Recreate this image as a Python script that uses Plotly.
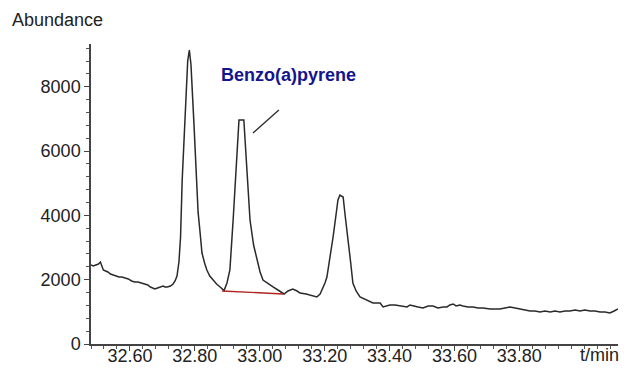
import plotly.graph_objects as go

# Chromatogram trace (retention time in min, abundance)
time_min = [
    32.480, 32.487, 32.495, 32.503, 32.509, 32.513, 32.518, 32.525, 32.532, 32.540,
    32.548, 32.557, 32.566, 32.575, 32.585, 32.595, 32.605, 32.615, 32.625, 32.635,
    32.645, 32.655, 32.663, 32.670, 32.677, 32.685, 32.695, 32.702, 32.708, 32.715,
    32.725, 32.733, 32.739, 32.745, 32.751, 32.756, 32.761, 32.770, 32.778, 32.783,
    32.788, 32.797, 32.804, 32.810, 32.816, 32.822, 32.830, 32.837, 32.846, 32.856,
    32.867, 32.878, 32.885, 32.890, 32.899, 32.908, 32.918, 32.927, 32.936, 32.951,
    32.961, 32.970, 32.981, 32.992, 33.001, 33.010, 33.026, 33.041, 33.056, 33.069,
    33.075, 33.087, 33.102, 33.115, 33.124, 33.143, 33.161, 33.176, 33.186, 33.195,
    33.201, 33.207, 33.217, 33.226, 33.235, 33.241, 33.247, 33.257, 33.263, 33.272,
    33.280, 33.287, 33.297, 33.309, 33.321, 33.331, 33.340, 33.349, 33.361, 33.371,
    33.380, 33.392, 33.401, 33.417, 33.432, 33.445, 33.454, 33.463, 33.472, 33.488,
    33.503, 33.519, 33.534, 33.549, 33.565, 33.577, 33.586, 33.596, 33.605, 33.617,
    33.626, 33.642, 33.657, 33.673, 33.688, 33.710, 33.731, 33.740, 33.756, 33.771,
    33.787, 33.802, 33.817, 33.833, 33.848, 33.864, 33.879, 33.895, 33.910, 33.925,
    33.941, 33.956, 33.972, 33.987, 34.002, 34.018, 34.033, 34.049, 34.064, 34.079,
    34.092, 34.104,
]
abundance = [
    2457, 2426, 2457, 2488, 2550, 2426, 2301, 2270, 2239, 2177,
    2146, 2115, 2084, 2084, 2053, 2022, 1959, 1928, 1928, 1897,
    1866, 1835, 1773, 1742, 1711, 1742, 1773, 1804, 1773, 1773,
    1804, 1866, 1959, 2115, 2550, 3328, 5100, 7120, 8800, 9143,
    8700, 6900, 5100, 4100, 3483, 2830, 2519, 2301, 2115, 1990,
    1866, 1773, 1711, 1660, 1897, 2301, 3856, 5411, 6966, 6966,
    5411, 3856, 3079, 2612, 2239, 1990, 1866, 1773, 1679, 1586,
    1555, 1648, 1711, 1648, 1586, 1555, 1493, 1462, 1555, 1742,
    1897, 2084, 2706, 3328, 4012, 4478, 4634, 4572, 4012, 3328,
    2550, 1897, 1648, 1462, 1400, 1368, 1306, 1275, 1275, 1275,
    1151, 1182, 1213, 1213, 1182, 1151, 1151, 1213, 1182, 1151,
    1120, 1182, 1182, 1120, 1151, 1151, 1213, 1244, 1182, 1213,
    1182, 1151, 1151, 1120, 1120, 1088, 1088, 1088, 1120, 1151,
    1120, 1088, 1057, 1026, 1026, 995, 1026, 995, 1026, 995,
    1026, 1026, 1057, 1026, 1057, 1026, 1026, 995, 995, 964,
    1026, 1088,
]

# Integration baseline under the Benzo(a)pyrene peak
baseline_time = [32.884, 33.072]
baseline_abund = [1648, 1555]

# Leader line from label to peak
leader_time = [32.979, 33.059]
leader_abund = [6562, 7277]

label_text = "Benzo(a)pyrene"
label_time = 33.09
label_abund = 8366

x_tickvals = [32.60, 32.80, 33.00, 33.20, 33.40, 33.60, 33.80]
y_tickvals = [0, 2000, 4000, 6000, 8000]

FONT = "Liberation Sans, Arial, sans-serif"

fig = go.Figure()
fig.add_trace(go.Scatter(x=time_min, y=abundance, mode="lines",
                         line=dict(color="#2a2a2a", width=1.5), hoverinfo="skip"))
fig.add_trace(go.Scatter(x=baseline_time, y=baseline_abund, mode="lines",
                         line=dict(color="#b22222", width=1.4), hoverinfo="skip"))
fig.add_trace(go.Scatter(x=leader_time, y=leader_abund, mode="lines",
                         line=dict(color="#2a2a2a", width=1.3), hoverinfo="skip"))

fig.add_annotation(x=label_time, y=label_abund, text="<b>" + label_text + "</b>",
                   showarrow=False, font=dict(family=FONT, size=18, color="#14148c"))
fig.add_annotation(xref="paper", yref="paper", x=-0.154, y=1.08, xanchor="left",
                   yanchor="middle", text="Abundance", showarrow=False,
                   font=dict(family=FONT, size=18, color="#222222"))
fig.add_annotation(xref="paper", yref="paper", x=1.005, y=-0.037, xanchor="right",
                   yanchor="middle", text="t/min", showarrow=False,
                   font=dict(family=FONT, size=18, color="#222222"))

fig.update_layout(
    width=627, height=369,
    margin=dict(l=91, r=9, t=44, b=25),
    paper_bgcolor="white", plot_bgcolor="white",
    showlegend=False,
    font=dict(family=FONT, size=18, color="#222222"),
)
fig.update_xaxes(
    range=[32.48, 34.104], showgrid=False, zeroline=False, automargin=False,
    showline=True, linecolor="#444444", linewidth=1.5,
    tickmode="array", tickvals=x_tickvals, ticktext=[f"{v:.2f}" for v in x_tickvals],
    ticks="outside", ticklen=5, tickwidth=1.2, tickcolor="#444444",
    ticklabelstandoff=-10,
    minor=dict(dtick=0.04, tick0=32.48, ticks="outside", ticklen=3, tickwidth=1, tickcolor="#555555"),
)
fig.update_yaxes(
    range=[0, 9330], showgrid=False, zeroline=False, automargin=False,
    showline=True, linecolor="#444444", linewidth=1.5,
    tickmode="array", tickvals=y_tickvals,
    ticks="outside", ticklen=5, tickwidth=1.2, tickcolor="#444444",
    minor=dict(dtick=400, tick0=0, ticks="outside", ticklen=3, tickwidth=1, tickcolor="#555555"),
)

fig.write_html("out.html")
